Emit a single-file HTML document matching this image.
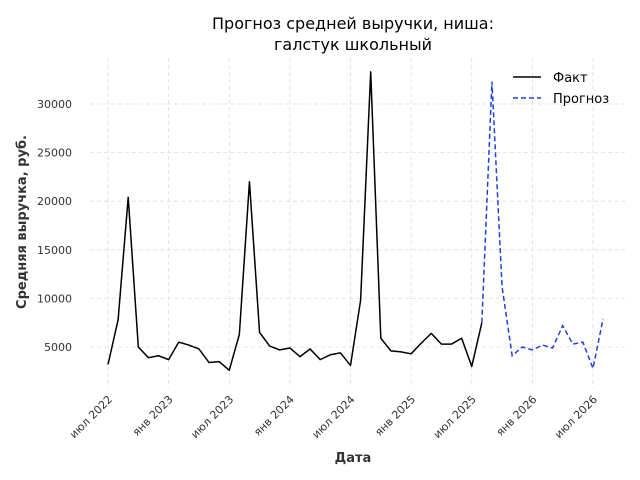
<!DOCTYPE html>
<html><head><meta charset="utf-8"><style>
body{margin:0;background:#fff;}
svg{display:block;font-family:"DejaVu Sans","Liberation Sans",sans-serif;}
</style></head><body>
<svg id="chart" width="640" height="480">
<text x="353" y="29" text-anchor="middle" font-size="16" fill="#000">Прогноз средней выручки, ниша:</text>
<text x="353" y="50" text-anchor="middle" font-size="16" fill="#000">галстук школьный</text>
<g id="grid"></g>
<g id="yticks"></g>
<g id="xticks"></g>
<g id="series"></g>
<text x="353" y="462" text-anchor="middle" font-size="13" font-weight="bold" fill="#333">Дата</text>
<text transform="translate(26,222) rotate(-90)" text-anchor="middle" font-size="13" font-weight="bold" fill="#333">Средняя выручка, руб.</text>
<g>
<line x1="513" y1="77" x2="541" y2="77" stroke="#000" stroke-width="1.5"/>
<text x="553" y="82" font-size="13" fill="#000">Факт</text>
<line x1="513" y1="98" x2="541" y2="98" stroke="#1f3fe0" stroke-width="1.5" stroke-dasharray="5,3"/>
<text x="553" y="103" font-size="13" fill="#000">Прогноз</text>
</g>
</svg>
<script>
const factValues=[3200,7800,20400,5000,3900,4100,3700,5500,5200,4800,3400,3500,2600,6300,22000,6500,5100,4700,4900,4000,4800,3700,4200,4400,3100,9800,33300,5900,4600,4500,4300,5400,6400,5300,5300,5900,3000,7500];
const forecastValues=[7500,32300,11200,4100,5000,4700,5200,4900,7200,5300,5500,2800,7900];
const forecastStart=37;
const yTicks=[5000,10000,15000,20000,25000,30000];
const xTickLabels=["июл 2022","янв 2023","июл 2023","янв 2024","июл 2024","янв 2025","июл 2025","янв 2026","июл 2026"];
const xTickMonths=[0,6,12,18,24,30,36,42,48];
const NS="http://www.w3.org/2000/svg";
const X=i=>108+i*10.104;
const Y=v=>347-(v-5000)*0.00972;
const grid=document.getElementById('grid'),yt=document.getElementById('yticks'),xt=document.getElementById('xticks'),ser=document.getElementById('series');
function mk(t,a,p){const e=document.createElementNS(NS,t);for(const k in a)e.setAttribute(k,a[k]);p.appendChild(e);return e;}
yTicks.forEach(v=>{
 const l=mk('line',{x1:90,x2:625,y1:Y(v),y2:Y(v),stroke:'#ddd','stroke-width':0.8,'stroke-dasharray':'4,3'},grid);
 
 
 const t=mk('text',{x:72,y:Y(v)+4,'text-anchor':'end','font-size':11,fill:'#333'},yt);
 t.textContent=v;
 
 
});
xTickMonths.forEach((m,i)=>{
 const l=mk('line',{x1:X(m),x2:X(m),y1:58,y2:388,stroke:'#ddd','stroke-width':0.8,'stroke-dasharray':'4,3'},grid);
 
 
 const t=mk('text',{transform:`translate(${X(m)+5},${400}) rotate(-45)`,'text-anchor':'end','font-size':11,fill:'#333'},xt);
 t.textContent=xTickLabels[i];
 
 
});
const fp=factValues.map((v,i)=>X(i)+','+Y(v)).join(' ');
const f=mk('polyline',{points:fp,fill:'none',stroke:'#000','stroke-width':1.5,'stroke-linejoin':'round'},ser);


const pp=forecastValues.map((v,i)=>X(forecastStart+i)+','+Y(v)).join(' ');
const p=mk('polyline',{points:pp,fill:'none',stroke:'#1f3fe0','stroke-width':1.5,'stroke-dasharray':'5,3'},ser);


</script>
</body></html>
